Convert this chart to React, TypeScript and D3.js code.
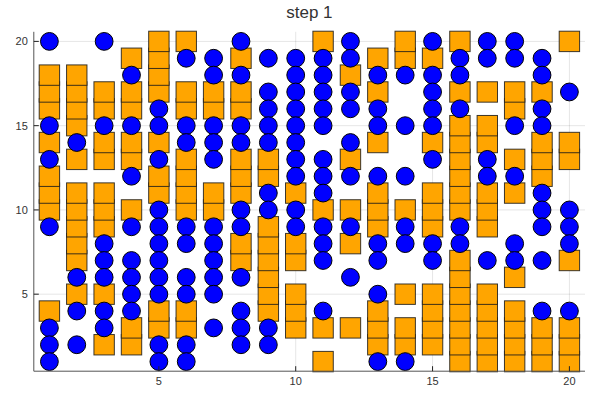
import React from "react";
import * as d3 from "d3";

// Grid state per column (x = 1..20); each string lists rows y = 20 down to 1.
// S = orange square agent, C = blue circle agent, . = empty
const columns: string[] = [
  "C.SSSCSCSSSC....SCCC",
  "..SSSSCS.SSSSSCSC.C.",
  "C..SSCSS.SSSCCCSCCS.",
  ".SCSSCSSC.SC.CCCCSS.",
  "SSSSCCSCSSCCCCCCSSCC",
  "SC.SSCCSSSSCC.CCSSCC",
  ".CCSSCCC.SSCCCCC.C..",
  "CSCSSCCSSSCCSSC.CCC.",
  ".C.CCCCSSCCSSSSSSCC.",
  ".CCCCCCCCSCCSS.SSS..",
  "SCCCCC.CCCSCCC..CS.S",
  "CCSCC.CSC.SCS.C..S..",
  ".SCSCCS.CSSSCC.CSSSC",
  "SSC..C..C.SCC..S.SSC",
  "CSCCCCSC.SSSCC.SSSS.",
  "SCCSCSSSSSSCCSSSSSSS",
  "CC.S.SSCCSSS.C.SSSSS",
  "CC.SSC.SCS..CCS.SSSS",
  ".CCSCCSSSCCC.C..CSSS",
  "S..C..SS..CCCS..CSSS",
];
const xTicks = [5, 10, 15, 20];
const yTicks = [5, 10, 15, 20];
const title = "step 1";

type Pt = { x: number; y: number };
const squares: Pt[] = [];
const circles: Pt[] = [];
columns.forEach((col, i) => {
  col.split("").forEach((ch, j) => {
    const p = { x: i + 1, y: 20 - j };
    if (ch === "S") squares.push(p);
    else if (ch === "C") circles.push(p);
  });
});
squares.sort((a, b) => a.y - b.y);

export default function App() {
  const W = 600, H = 400;
  const left = 33.8, right = 585, top = 31.8, bottom = 371.2;
  const x = d3.scaleLinear().domain([0.43, 20.57]).range([left, right]);
  const y = d3.scaleLinear().domain([0.43, 20.57]).range([bottom, top]);
  const sq = 20.4;
  const cr = 8.9;
  const font = "'Liberation Sans', Arial, Helvetica, sans-serif";
  return (
    <svg width={W} height={H} style={{ position: "absolute", left: 0, top: 0, background: "#fff" }}>
      <rect x={0} y={0} width={W} height={H} fill="#fff" />
      {/* grid */}
      {xTicks.map((t) => (
        <line key={"gx" + t} x1={x(t)} x2={x(t)} y1={top} y2={bottom} stroke="#000" strokeOpacity={0.1} strokeWidth={1} />
      ))}
      {yTicks.map((t) => (
        <line key={"gy" + t} x1={left} x2={right} y1={y(t)} y2={y(t)} stroke="#000" strokeOpacity={0.1} strokeWidth={1} />
      ))}
      {/* squares */}
      {squares.map((p, i) => (
        <rect
          key={"s" + i}
          x={x(p.x) - sq / 2}
          y={y(p.y) - sq / 2}
          width={sq}
          height={sq}
          fill="#FFA500"
          stroke="#1a1a1a"
          strokeOpacity={0.85}
          strokeWidth={1}
        />
      ))}
      {/* circles */}
      {circles.map((p, i) => (
        <circle key={"c" + i} cx={x(p.x)} cy={y(p.y)} r={cr} fill="#0000FF" stroke="#000" strokeWidth={1} />
      ))}
      {/* axes */}
      <line x1={left} x2={right} y1={bottom} y2={bottom} stroke="#555" strokeWidth={1} />
      <line x1={left} x2={left} y1={top} y2={bottom} stroke="#555" strokeWidth={1} />
      {xTicks.map((t) => (
        <g key={"xt" + t}>
          <line x1={x(t)} x2={x(t)} y1={bottom} y2={bottom - 5} stroke="#222" strokeWidth={1} />
          <text x={x(t)} y={bottom + 14} textAnchor="middle" fontSize={11} fontFamily={font} fill="#333">
            {t}
          </text>
        </g>
      ))}
      {yTicks.map((t) => (
        <g key={"yt" + t}>
          <line x1={left} x2={left + 5} y1={y(t)} y2={y(t)} stroke="#222" strokeWidth={1} />
          <text x={left - 6} y={y(t) + 4} textAnchor="end" fontSize={11} fontFamily={font} fill="#333">
            {t}
          </text>
        </g>
      ))}
      <text x={(left + right) / 2} y={18} textAnchor="middle" fontSize={17} fontFamily={font} fill="#333">
        {title}
      </text>
    </svg>
  );
}
